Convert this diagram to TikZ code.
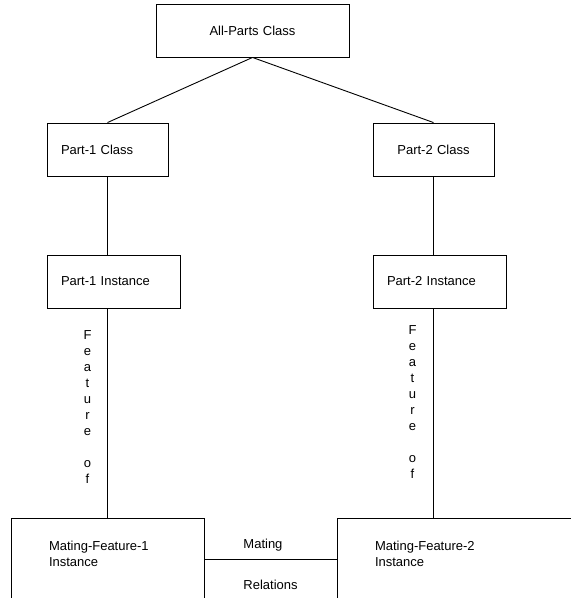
\documentclass[tikz,border=0pt]{standalone}
\usepackage{fontspec}
\setmainfont{Liberation Sans}
\begin{document}
\begin{tikzpicture}[x=1pt, y=-1pt, line width=0.9pt,
  box/.style={draw, rectangle, minimum height=53pt, inner xsep=14pt, inner ysep=0pt,
    font=\fontsize{13}{16}\selectfont},
  featlabel/.style={align=center, inner sep=0pt, font=\fontsize{13}{16}\selectfont},
  rellabel/.style={anchor=west, inner sep=0pt, align=left, font=\fontsize{13}{16}\selectfont}]
\useasboundingbox (0,0) rectangle (571,598);
\clip (0,0) rectangle (571,598);
\node[box, text width=165pt, align=center] (all) at (252.5,30.5){All-Parts Class};
\node[box, text width=93pt, align=left] (p1c) at (107.5,149.5){Part-1 Class};
\node[box, text width=93pt, align=center] (p2c) at (433.5,149.5){Part-2 Class};
\node[box, text width=105pt, align=left] (p1i) at (113.5,281.5){Part-1 Instance};
\node[box, text width=105pt, align=left] (p2i) at (439.5,281.5){Part-2 Instance};
\node[box, minimum height=82pt, minimum width=193pt] (mf1) at (107.5,559){};
\node[box, minimum height=82pt, minimum width=260pt] (mf2) at (467,559){};
\node[rellabel, xshift=38pt, yshift=5pt] (mf1txt) at (mf1.west){Mating-Feature-1\\Instance};
\node[rellabel, xshift=38pt, yshift=5pt] (mf2txt) at (mf2.west){Mating-Feature-2\\Instance};
\draw[](all.south) -- (p1c.north);
\draw[](all.south) -- (p2c.north);
\draw[](p1c.south) -- (p1c.south |- p1i.north);
\draw[](p2c.south) -- (p2c.south |- p2i.north);
\draw[](p1c.south |- p1i.south) -- node[featlabel, xshift=-20pt, yshift=6pt]{F\\e\\a\\t\\u\\r\\e\\[16pt]o\\f} (mf1.north);
\draw[](p2c.south |- p2i.south) -- node[featlabel, xshift=-21pt, yshift=11pt]{F\\e\\a\\t\\u\\r\\e\\[16pt]o\\f} (p2c.south |- mf2.north);
\draw[](mf1.east) -- node[rellabel, xshift=-27.5pt, yshift=14pt]{Mating}
  node[rellabel, xshift=-27.5pt, yshift=-26pt]{Relations} (mf2.west);
\end{tikzpicture}
\end{document}
